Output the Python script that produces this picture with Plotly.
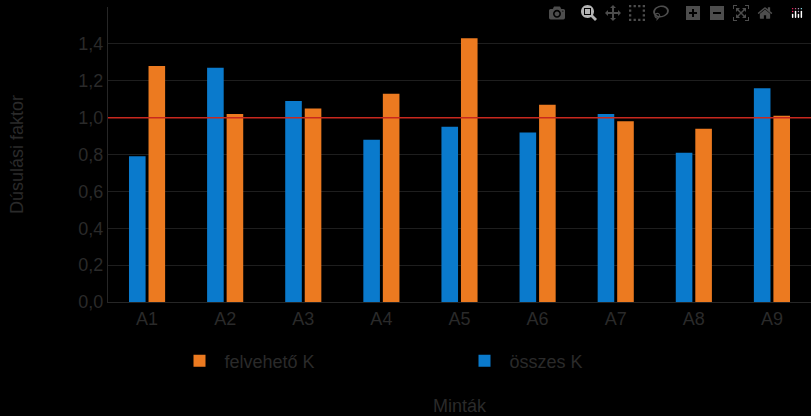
import plotly.graph_objects as go

mintak = ["A1", "A2", "A3", "A4", "A5", "A6", "A7", "A8", "A9"]
osszes_k = [0.79, 1.27, 1.09, 0.88, 0.95, 0.92, 1.02, 0.81, 1.16]
felveheto_k = [1.28, 1.02, 1.05, 1.13, 1.43, 1.07, 0.98, 0.94, 1.01]

txt = "#2a2a2a"
font = dict(family="Liberation Sans, Arial", size=18, color=txt)

fig = go.Figure()
fig.add_trace(go.Bar(x=mintak, y=osszes_k, name="összes K",
                     marker=dict(color="#0a7acc", line_width=0)))
fig.add_trace(go.Bar(x=mintak, y=felveheto_k, name="felvehető K",
                     marker=dict(color="#ec7a20", line_width=0)))

# reference line at 1.0
fig.add_hline(y=1.0, line_color="#c8281e", line_width=1.5)

fig.update_layout(
    width=811, height=416,
    paper_bgcolor="black", plot_bgcolor="black",
    font=font,
    margin=dict(l=108, r=0, t=7, b=114),
    bargap=0.5, bargroupgap=0.15,
    showlegend=True,
    legend=dict(orientation="h", x=0.5, xanchor="center", y=-0.2, yanchor="middle",
                traceorder="reversed", font=font, itemwidth=40,
                entrywidth=230),
    separators=",.",
)
fig.update_xaxes(title=dict(text="Minták", font=font, standoff=75),
                 showline=True, linecolor="#262626", ticks="", tickfont=font)
fig.update_yaxes(title=dict(text="Dúsulási faktor", font=font, standoff=50),
                 range=[0, 1.6], dtick=0.2, tickformat=".1f",
                 showgrid=True, gridcolor="#1e1e1e",
                 showline=True, linecolor="#262626", zeroline=False, tickfont=font)

fig.write_html("out.html",
               post_script="document.body.style.margin='0';document.body.style.background='black';")
